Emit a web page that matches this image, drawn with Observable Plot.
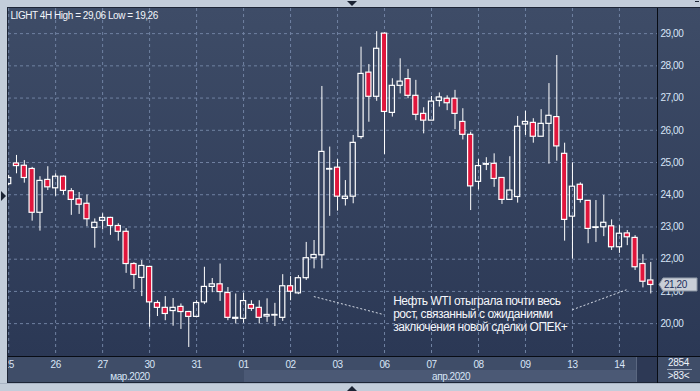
<!DOCTYPE html>
<html><head><meta charset="utf-8">
<script src="https://cdn.jsdelivr.net/npm/d3@7"></script>
<script src="https://cdn.jsdelivr.net/npm/@observablehq/plot@0.6"></script>
<style>
html,body{margin:0;padding:0;background:#c3cdda;overflow:hidden;}
#wrap{position:relative;width:700px;height:391px;overflow:hidden;background:#c3cdda;font-family:"Liberation Sans",Arial,sans-serif;}
.abs{position:absolute;}
#chart{position:absolute;left:0;top:0;}
.tri{position:absolute;width:0;height:0;}
.rp{position:absolute;left:658px;width:41px;text-align:center;color:#eef3fb;font-size:10px;letter-spacing:-0.3px;}
</style></head><body>
<div id="wrap">
  <div class="abs" style="left:7px;top:7px;width:693px;height:376px;background:#1d2536;"></div>
  <div class="abs" style="left:8px;top:8px;width:692px;height:348px;background:linear-gradient(#3e4c67,#2b3855);"></div>
  <div class="abs" style="left:8px;top:357px;width:692px;height:25px;background:#3f4d68;"></div>
  <div class="abs" style="left:244px;top:370px;width:392px;height:12px;background:#4b5975;"></div>
  <div class="abs" style="left:636px;top:357px;width:20px;height:25px;background:#2d3955;border-left:1px solid #5a6780;"></div>
  <div class="abs" style="left:8px;top:356px;width:692px;height:1px;background:#080c14;"></div>
  <div class="abs" style="left:657px;top:8px;width:1px;height:375px;background:#080c14;"></div>
  <div id="chart"></div>
  <div class="abs" style="left:0;top:0;width:7px;height:391px;background:#c3cdda;border-right:1px solid #1d2536;"></div>
  <div class="abs" style="left:0;top:383px;width:700px;height:8px;background:#c3cdda;border-top:1px solid #a9b4c4;"></div>
  <div class="abs" style="left:0;top:0;width:700px;height:7px;background:#c3cdda;"></div>
  <div class="rp" style="top:357px;">2854</div>
  <div class="abs" style="left:667px;top:369px;width:25px;height:1px;background:#9aa6ba;"></div>
  <div class="rp" style="top:370px;">&gt;83&lt;</div>
  <div class="tri" style="left:347px;top:1px;border-left:5px solid transparent;border-right:5px solid transparent;border-top:5px solid #1b2333;"></div>
  <div class="tri" style="left:347px;top:386px;border-left:5px solid transparent;border-right:5px solid transparent;border-bottom:5px solid #1b2333;"></div>
  <div class="tri" style="left:1px;top:191px;border-top:5px solid transparent;border-bottom:5px solid transparent;border-left:5px solid #1b2333;"></div>
  <div class="abs" style="left:695px;top:1px;width:4px;height:1px;background:#1b2333;"></div>
</div>
<script>
// ---- data ----
const opens = [24.33,24.97,24.90,24.80,23.44,24.46,24.20,24.56,24.11,23.86,23.72,22.97,23.19,23.28,23.03,22.85,21.85,21.42,21.76,20.64,
  20.49,20.39,20.52,20.36,20.21,20.66,21.14,21.22,20.95,20.15,20.15,20.58,20.49,20.22,20.25,20.18,21.16,20.94,21.41,22.03,
  22.12,24.78,24.84,23.87,23.94,25.79,27.79,27.04,29.00,26.54,27.38,27.59,27.07,26.51,26.30,26.91,26.98,26.98,26.26,25.86,
  24.40,24.93,24.96,24.52,23.84,23.93,26.18,26.23,25.80,26.20,26.41,25.27,23.32,24.31,23.81,22.97,22.99,23.02,22.37,22.80,
  22.66,21.85,21.34];
const highs = [24.60,25.22,25.06,24.85,24.56,24.87,24.65,24.58,24.19,24.07,23.99,23.25,23.41,23.30,23.10,22.95,21.89,21.96,21.78,20.71,
  20.84,20.78,20.61,20.38,20.71,21.75,21.40,21.85,21.12,20.92,20.94,20.71,20.71,20.77,20.63,21.52,21.46,21.49,22.52,22.58,
  27.36,25.48,25.09,24.44,25.84,28.58,28.04,29.06,29.02,27.60,28.22,27.89,27.55,26.70,27.05,27.16,27.07,27.24,26.67,25.94,
  25.09,25.15,25.27,24.53,25.18,26.43,26.59,26.36,26.64,27.45,28.32,25.60,24.99,24.37,23.82,23.82,23.98,23.22,23.04,22.89,
  22.73,22.14,21.90];
const lows = [24.28,24.65,24.36,23.18,22.87,24.13,23.95,23.99,23.36,23.39,23.01,22.34,22.91,22.74,22.56,21.56,21.06,20.84,19.89,20.22,
  20.09,19.92,19.82,19.26,20.18,20.59,20.96,20.69,20.09,19.99,20.01,20.38,19.99,20.04,19.91,20.07,20.71,20.90,21.34,21.70,
  21.70,23.33,23.49,23.65,23.72,25.72,26.25,26.90,25.25,26.41,27.13,26.98,26.30,25.89,26.30,26.72,26.61,26.02,25.70,23.51,
  24.15,24.75,24.23,23.70,23.84,23.74,25.84,25.60,25.80,24.95,25.04,22.56,22.00,23.74,22.48,22.52,22.70,22.27,22.18,22.42,
  21.65,21.11,20.92];
const closes = [24.52,24.89,24.52,23.44,24.43,24.23,24.56,24.12,23.84,23.69,23.24,23.13,23.28,23.03,22.85,21.85,21.51,21.79,20.66,20.49,
  20.30,20.49,20.36,20.21,20.64,21.14,21.22,20.98,20.18,20.18,20.70,20.46,20.18,20.27,20.27,21.16,20.99,21.41,22.03,22.13,
  25.33,24.80,23.94,23.94,25.61,27.75,27.04,28.53,26.57,27.38,27.51,27.07,26.48,26.30,26.89,27.02,26.84,26.51,25.86,24.26,
  24.89,24.95,24.49,23.84,24.13,26.11,26.26,25.80,26.20,26.45,25.50,23.22,24.25,23.84,22.94,22.99,23.13,22.37,22.79,22.68,
  21.75,21.30,21.20];
const dayLabels = ["25","26","27","30","31","01","02","03","06","07","08","09","13","14"];
const candlesPerDay = 6;
const monthLabels = ["мар.2020","апр.2020"];
const monthAt = [16.5, 57.5];
const yTicks = [20,21,22,23,24,25,26,27,28,29];
const titleText = "LIGHT 4H High = 29,06 Low = 19,26";
const noteText = "Нефть WTI отыграла почти весь\nрост, связанный с ожиданиями\nзаключения новой сделки ОПЕК+";
const leaders = [
  {xa: 39.97, ya: 20.84, xb: 48.9, yb: 20.28},
  {xa: 72.97, ya: 20.43, xb: 79.9, yb: 21.05}
];

// ---- build ----
const candles = opens.map((o, i) => ({i: i + 1, open: o, high: highs[i], low: lows[i], close: closes[i]}));
const dayTicks = dayLabels.map((_, d) => 1 + d * candlesPerDay);
const dayMap = new Map(dayTicks.map((t, d) => [t, dayLabels[d]]));
const fmt = v => v.toFixed(2).replace(".", ",");
const red = "#e0163c";
const grid = {stroke: "#7082a2", strokeOpacity: 1, strokeDasharray: "3,3"};
const months = monthLabels.map((m, j) => ({m, x: monthAt[j]}));
const half = 0.33;

const chart = Plot.plot({
  width: 700, height: 391,
  marginLeft: 8, marginRight: 43, marginTop: 8, marginBottom: 35,
  style: {background: "transparent", fontFamily: "'Liberation Sans', Arial, sans-serif", fontSize: "10px",
          color: "#d8e5f7", letterSpacing: "-0.45px", overflow: "visible"},
  x: {type: "linear", domain: [0.98, 83.86]},
  y: {domain: [18.98, 29.78]},
  marks: [
    Plot.gridX(dayTicks, grid),
    Plot.gridY(yTicks, grid),
    Plot.axisY(yTicks, {anchor: "right", tickSize: 0, tickPadding: 3, tickFormat: fmt, label: null, textAnchor: "start"}),
    Plot.axisX(dayTicks, {anchor: "bottom", tickSize: 0, tickPadding: 4, tickFormat: d => dayMap.get(d), label: null}),
    Plot.text(months, {x: "x", text: "m", frameAnchor: "bottom", lineAnchor: "top", dy: 16, fill: "#d8e5f7"}),
    Plot.text([titleText], {frameAnchor: "top-left", textAnchor: "start", lineAnchor: "top", dx: 2, dy: 3.2, fill: "#f2f5fa"}),
    Plot.ruleX(candles, {x: "i", y1: "high", y2: d => Math.max(d.open, d.close), stroke: "white", strokeWidth: 1, clip: true}),
    Plot.ruleX(candles, {x: "i", y1: d => Math.min(d.open, d.close), y2: "low", stroke: "white", strokeWidth: 1, clip: true}),
    Plot.rect(candles, {x1: d => d.i - half, x2: d => d.i + half, y1: "open", y2: "close",
      fill: d => d.close < d.open ? red : "none", stroke: "white", strokeWidth: 1.2, clip: true}),
    Plot.link(leaders, {x1: "xa", y1: "ya", x2: "xb", y2: "yb", stroke: "#d5dbe6", strokeWidth: 1, strokeDasharray: "2,2"}),
    Plot.text([noteText], {x: 50.1, y: 20.31, textAnchor: "start", lineAnchor: "middle", lineHeight: 1.08,
      fontSize: 12, fill: "#f4f6fa"})
  ]
});
document.getElementById("chart").appendChild(chart);

// last-price tag on the right axis, placed through the plot's own scales
const last = closes[closes.length - 1];
const yPx = chart.scale("y").apply(last);
const xRight = chart.scale("x").range[1];
const svg = d3.select(chart);
const tag = svg.append("g");
const x0 = xRight + 2, x1 = xRight + 6, x2 = xRight + 40, h = 6.5;
tag.append("path")
  .attr("d", `M${x0},${yPx} L${x1},${yPx - h} L${x2},${yPx - h} L${x2},${yPx + h} L${x1},${yPx + h} Z`)
  .attr("fill", "#c9ced7").attr("stroke", "#8e97a6").attr("stroke-width", 1);
tag.append("text").attr("x", x1 + 1).attr("y", yPx).attr("dy", "0.35em")
  .attr("text-anchor", "start")
  .attr("fill", "#1b2c5a").attr("font-size", 10).text(fmt(last));
</script>
</body></html>
